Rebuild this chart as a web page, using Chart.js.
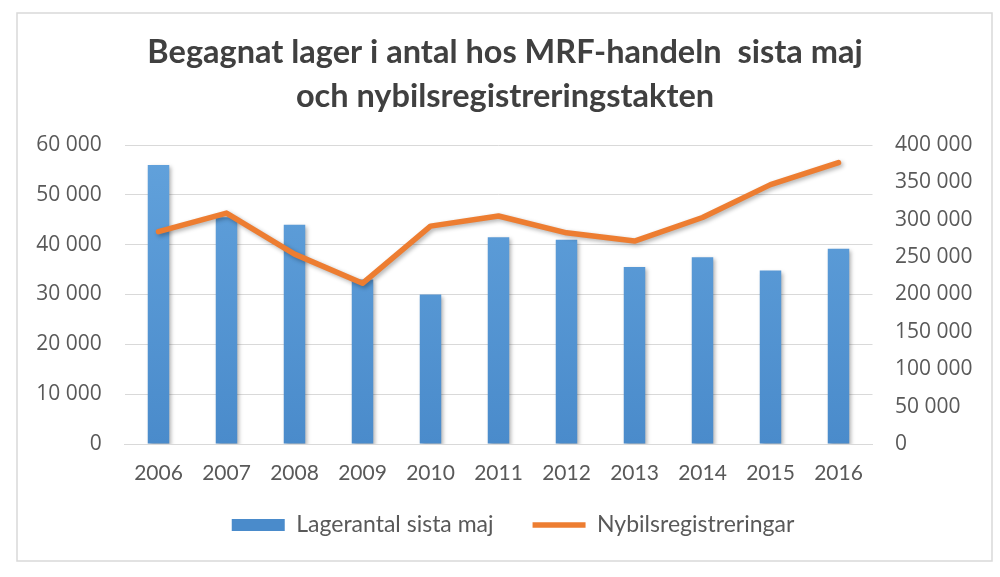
<!DOCTYPE html>
<html><head><meta charset="utf-8">
<script src="https://cdn.jsdelivr.net/npm/chart.js@4"></script>
<style>html,body{margin:0;padding:0;background:#fff;}#wrap{position:absolute;left:0;top:0;width:1000px;height:577px;}</style>
</head><body><div id="wrap"><canvas id="c" width="1000" height="577"></canvas></div>
<script>
const categories = ['2006','2007','2008','2009','2010','2011','2012','2013','2014','2015','2016'];
const stockValues = [56000, 45500, 44000, 33000, 30000, 41500, 41000, 35500, 37500, 34800, 39200];
const registrations = [284000, 309000, 254000, 215000, 291500, 305000, 282500, 271500, 303000, 347000, 376500];
const leftTickLabels = ['0','10 000','20 000','30 000','40 000','50 000','60 000'];
const rightTickLabels = ['0','50 000','100 000','150 000','200 000','250 000','300 000','350 000','400 000'];
const titleLines = ['Begagnat lager i antal hos MRF-handeln  sista maj', 'och nybilsregistreringstakten'];
const seriesNames = ['Lagerantal sista maj', 'Nybilsregistreringar'];

const frame = {
  id: 'frame',
  afterLayout(chart) {
    const lg = chart.legend;
    if (lg) { lg.top -= 11.7; lg.bottom -= 11.7; lg.left += 3; lg.right += 3; }
    const tb = chart.titleBlock;
    if (tb) { tb.left -= 5; tb.right -= 5; }
  },
  beforeDraw(chart) {
    const c = chart.ctx; c.save();
    c.fillStyle = '#fff'; c.fillRect(0,0,chart.width,chart.height);
    c.strokeStyle = '#d9d9d9'; c.lineWidth = 1.5;
    c.strokeRect(17, 13, 975, 548);
    c.restore();
  },
  beforeDatasetDraw(chart) {
    const c = chart.ctx; c.save();
    c.shadowColor = 'rgba(0,0,0,0.3)'; c.shadowBlur = 4; c.shadowOffsetX = 2; c.shadowOffsetY = 2;
  },
  afterDatasetDraw(chart) { chart.ctx.restore(); }
};

const tickFont = {family: '"Open Sans", sans-serif', size: 21};
const catFont = {family: 'Lato, sans-serif', size: 21, lineHeight: 1.2};

new Chart(document.getElementById('c'), {
  type: 'bar',
  data: {
    labels: categories,
    datasets: [
      {
        label: seriesNames[0], data: stockValues, yAxisID: 'y', order: 2,
        backgroundColor: (ctx) => {
          const a = ctx.chart.chartArea;
          if (!a) return '#5b9bd5';
          const g = ctx.chart.ctx.createLinearGradient(0, a.top, 0, a.bottom);
          g.addColorStop(0, '#62a2dc'); g.addColorStop(1, '#4a8bcb');
          return g;
        },
        borderWidth: 0, categoryPercentage: 0.8, barPercentage: 0.395, pointStyle: 'rect'
      },
      {
        type: 'line', label: seriesNames[1], data: registrations, yAxisID: 'y1', order: 1,
        borderColor: '#ed7d31', backgroundColor: '#ed7d31', borderWidth: 5.5,
        pointRadius: 0, tension: 0, borderJoinStyle: 'round', borderCapStyle: 'round', pointStyle: 'line'
      }
    ]
  },
  options: {
    responsive: false, animation: false, devicePixelRatio: 1,
    layout: {padding: {left: 20, right: 0, top: 0, bottom: 18.8}},
    plugins: {
      tooltip: {enabled: false},
      title: {
        display: true, text: titleLines, color: '#404040',
        font: {family: 'Lato, sans-serif', size: 32.5, weight: 'bold', lineHeight: 1.354},
        padding: {top: 31, bottom: 26}
      },
      legend: {
        position: 'bottom',
        labels: {
          usePointStyle: true, pointStyleWidth: 53, boxHeight: 12, padding: 39,
          color: '#595959', font: {family: 'Lato, sans-serif', size: 23},
          sort: (a, b) => a.datasetIndex - b.datasetIndex
        }
      }
    },
    scales: {
      x: {
        grid: {display: false, drawTicks: false},
        border: {display: true, color: '#d9d9d9', width: 1},
        ticks: {color: '#595959', font: catFont, padding: 17, maxRotation: 0},
        afterFit: (s) => { s.height = 42.2; }
      },
      y: {
        position: 'left', min: 0, max: 60000,
        grid: {color: '#d9d9d9', drawTicks: false, lineWidth: 1},
        border: {display: false},
        ticks: {stepSize: 10000, color: '#595959', font: tickFont, padding: 22.8,
          callback: (v, i) => leftTickLabels[i]},
        afterFit: (s) => { s.width = 104.5; }
      },
      y1: {
        position: 'right', min: 0, max: 400000,
        grid: {display: false, drawTicks: false},
        border: {display: false},
        ticks: {stepSize: 50000, color: '#595959', font: tickFont, padding: 22.5,
          callback: (v, i) => rightTickLabels[i]},
        afterFit: (s) => { s.width = 127.5; }
      }
    }
  },
  plugins: [frame]
});
</script></body></html>
